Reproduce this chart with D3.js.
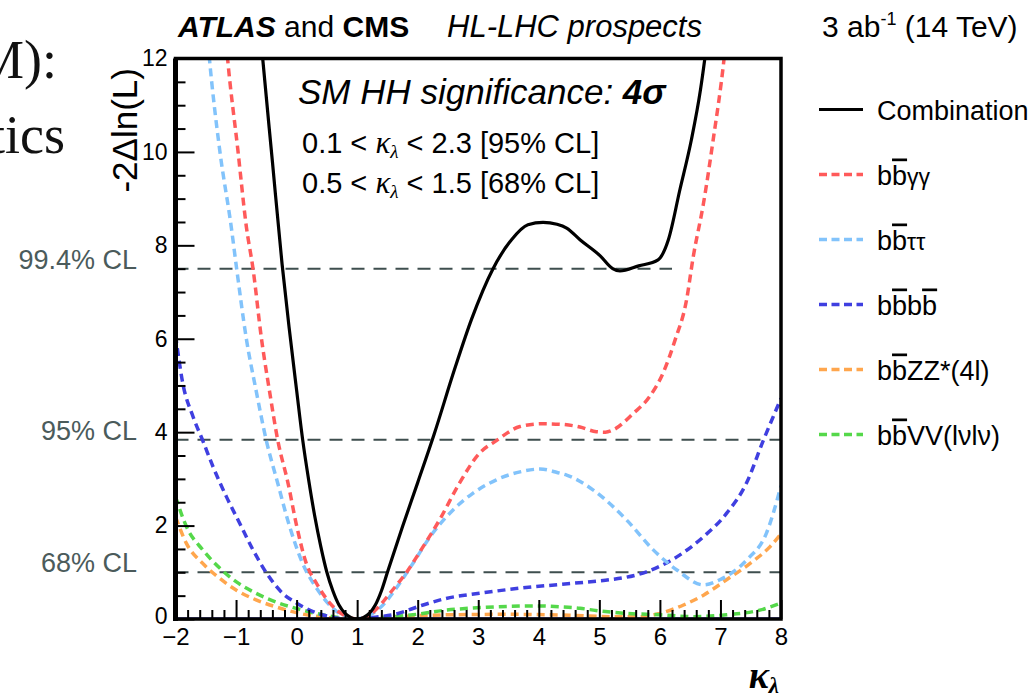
<!DOCTYPE html>
<html>
<head>
<meta charset="utf-8">
<script src="https://cdn.jsdelivr.net/npm/d3@7"></script>
<style>
  body { margin: 0; background: #fff; }
  svg { display: block; font-family: "Liberation Sans", Arial, Helvetica, sans-serif; }
</style>
</head>
<body>
<svg id="chart" width="1035" height="697"></svg>
<script>
// Likelihood scans of kappa_lambda: each point is [kappa_lambda, -2 Delta ln L]
const combination = [[-0.62,12.9],[-0.56,12.0],[-0.40,9.8],[-0.24,7.6],[-0.12,6.2],[0.0,4.9],[0.1,3.84],[0.2,2.97],[0.3,2.2],[0.4,1.55],[0.5,1.0],[0.6,0.6],[0.7,0.3],[0.8,0.12],[0.9,0.03],[1.0,0],[1.1,0.03],[1.2,0.12],[1.3,0.3],[1.4,0.6],[1.5,1.0],[1.75,1.98],[2.0,2.92],[2.27,3.95],[2.61,5.35],[2.89,6.42],[3.24,7.49],[3.55,8.12],[3.82,8.44],[4.07,8.49],[4.3,8.45],[4.46,8.37],[4.68,8.12],[5.01,7.78],[5.22,7.5],[5.34,7.45],[5.65,7.56],[5.97,7.69],[6.14,8.12],[6.33,9.19],[6.52,10.26],[6.67,11.33],[6.74,11.98],[6.8,12.6]];
const bbgg = [[-1.2,12.9],[-1.14,12.0],[-0.97,10.04],[-0.83,8.4],[-0.72,7.5],[-0.58,6.0],[-0.45,4.9],[-0.31,3.82],[-0.14,2.9],[0.0,2.0],[0.16,1.19],[0.33,0.76],[0.55,0.34],[0.77,0.09],[0.99,0],[1.21,0.09],[1.37,0.28],[1.54,0.55],[1.81,0.99],[2.09,1.55],[2.36,2.12],[2.69,2.91],[3.02,3.55],[3.30,3.82],[3.69,4.12],[4.07,4.18],[4.35,4.17],[4.68,4.11],[4.95,4.01],[5.1,4.0],[5.23,4.05],[5.56,4.40],[5.83,4.76],[6.05,5.26],[6.25,5.97],[6.44,6.83],[6.55,7.75],[6.72,8.9],[6.88,10.26],[7.06,12.0],[7.1,12.5]];
const bbtt = [[-1.5,12.9],[-1.44,12.0],[-1.27,10.04],[-1.08,8.4],[-0.99,7.5],[-0.83,6.0],[-0.67,4.9],[-0.50,3.82],[-0.31,2.9],[-0.12,2.0],[0.10,1.19],[0.35,0.62],[0.60,0.23],[0.8,0.05],[0.95,0],[1.15,0.05],[1.37,0.23],[1.70,0.76],[1.92,1.19],[2.25,1.84],[2.58,2.33],[2.91,2.69],[3.30,2.98],[3.69,3.15],[4.02,3.21],[4.35,3.12],[4.46,3.08],[4.90,2.76],[5.45,2.12],[5.89,1.48],[6.28,1.05],[6.72,0.73],[6.99,0.84],[7.43,1.26],[7.76,1.84],[8.0,2.85]];
const bbbb = [[-2.0,6.08],[-1.88,5.05],[-1.71,4.33],[-1.55,3.82],[-1.38,3.26],[-1.16,2.62],[-0.94,2.05],[-0.72,1.48],[-0.50,0.99],[-0.23,0.55],[0.0,0.34],[0.27,0.16],[0.55,0.05],[0.85,0.0],[1.1,0.01],[1.3,0.04],[1.59,0.09],[2.09,0.30],[2.47,0.44],[3.02,0.55],[3.69,0.66],[4.35,0.74],[4.95,0.81],[5.17,0.84],[5.78,1.01],[6.28,1.33],[6.72,1.76],[7.10,2.26],[7.43,2.91],[7.71,3.83],[8.0,4.72]];
const bbzz = [[-2.0,2.19],[-1.82,1.62],[-1.55,1.19],[-1.27,0.87],[-1.0,0.62],[-0.67,0.41],[-0.34,0.26],[0.05,0.12],[0.38,0.05],[0.7,0.01],[1.0,0],[1.5,0.04],[2.5,0.09],[3.5,0.1],[4.5,0.08],[5.2,0.05],[5.7,0.05],[6.0,0.12],[6.39,0.3],[6.72,0.51],[7.10,0.84],[7.49,1.19],[7.82,1.55],[8.0,1.82]];
const bbvv = [[-2.0,2.62],[-1.82,1.98],[-1.55,1.48],[-1.27,1.09],[-1.0,0.8],[-0.67,0.55],[-0.29,0.34],[0.10,0.19],[0.43,0.09],[0.7,0.03],[0.95,0],[1.3,0.02],[1.92,0.09],[2.47,0.19],[3.13,0.25],[3.96,0.28],[4.35,0.26],[4.68,0.23],[4.90,0.19],[5.45,0.12],[6.0,0.09],[6.55,0.05],[7.10,0.09],[7.65,0.19],[8.0,0.34]];

// Confidence-level thresholds and the kappa range each line spans
const clLabels = ["99.4% CL", "95% CL", "68% CL"];
const clValues = [7.5, 3.84, 1.0];
const clEnds = [6.2, 8, 8];

// Axis ticks
const xTicks = [-2, -1, 0, 1, 2, 3, 4, 5, 6, 7, 8];
const yTicks = [0, 2, 4, 6, 8, 10, 12];

const svg = d3.select("#chart");
const W = 1035, H = 697;
svg.append("rect").attr("width", W).attr("height", H).attr("fill", "#fff");

const x = d3.scaleLinear().domain([-2, 8]).range([175.5, 781]);
const y = d3.scaleLinear().domain([0, 12]).range([619, 58.5]);

// Text of the slide behind the figure
const serif = "'Liberation Serif', 'Times New Roman', serif";
svg.append("text").attr("x", 57).attr("y", 78).attr("text-anchor", "end")
  .attr("font-family", serif).attr("font-size", 54).attr("fill", "#111").text("M):");
svg.append("text").attr("x", 65).attr("y", 153).attr("text-anchor", "end")
  .attr("font-family", serif).attr("font-size", 54).attr("fill", "#111").text("tics");

// Clip region for the curves
svg.append("clipPath").attr("id", "plotclip").append("rect")
  .attr("x", x(-2)).attr("y", y(12)).attr("width", x(8) - x(-2)).attr("height", y(0) - y(12));

const plot = svg.append("g").attr("clip-path", "url(#plotclip)");

// CL reference lines
plot.selectAll("line.cl").data(clValues).join("line").attr("class", "cl")
  .attr("x1", x(-2)).attr("x2", (d, i) => x(clEnds[i]))
  .attr("y1", d => y(d)).attr("y2", d => y(d))
  .attr("stroke", "#3e4e4e").attr("stroke-width", 2).attr("stroke-dasharray", "13,9");

svg.selectAll("text.cl").data(clValues).join("text").attr("class", "cl")
  .attr("x", 137).attr("y", d => y(d)).attr("text-anchor", "end")
  .attr("font-size", 27).attr("fill", "#4b5b5b").text((d, i) => clLabels[i]);

// Zero line
plot.append("line").attr("x1", x(-2)).attr("x2", x(8)).attr("y1", y(0)).attr("y2", y(0))
  .attr("stroke", "#0000d0").attr("stroke-width", 3);

const line = d3.line().x(d => x(d[0])).y(d => y(d[1])).curve(d3.curveMonotoneX);

const series = [
  { name: "bbzz", data: bbzz, color: "#ffa64d" },
  { name: "bbvv", data: bbvv, color: "#55d84a" },
  { name: "bbbb", data: bbbb, color: "#3f3fe0" },
  { name: "bbtt", data: bbtt, color: "#82c3fb" },
  { name: "bbgg", data: bbgg, color: "#ff5a5a" }
];
series.forEach(s => {
  plot.append("path").datum(s.data).attr("d", line).attr("fill", "none")
    .attr("stroke", s.color).attr("stroke-width", 3.5).attr("stroke-dasharray", "8,5");
});
plot.append("path").datum(combination).attr("d", line).attr("fill", "none")
  .attr("stroke", "#000").attr("stroke-width", 3.2);

// Axes: ticks point into the frame
const yMinor = d3.range(0, 12.01, 0.5).filter(v => v % 2 !== 0);
const xMinor = d3.range(-2, 8.001, 0.2).map(v => +v.toFixed(1)).filter(v => Math.abs(v - Math.round(v)) > 1e-6);

const gyMinor = svg.append("g").attr("transform", `translate(${x(-2)},0)`)
  .call(d3.axisLeft(y).tickValues(yMinor).tickSize(-10).tickFormat(""));
const gy = svg.append("g").attr("transform", `translate(${x(-2)},0)`)
  .call(d3.axisLeft(y).tickValues(yTicks).tickSize(-19).tickPadding(8).tickFormat(d3.format("d")));
const gxMinor = svg.append("g").attr("transform", `translate(0,${y(0)})`)
  .call(d3.axisBottom(x).tickValues(xMinor).tickSize(-9).tickFormat(""));
const gx = svg.append("g").attr("transform", `translate(0,${y(0)})`)
  .call(d3.axisBottom(x).tickValues(xTicks).tickSize(-19).tickPadding(9).tickFormat(d3.format("d")));

[gyMinor, gy, gxMinor, gx].forEach(g => {
  g.selectAll(".tick line").attr("stroke", "#000").attr("stroke-width", 2);
  g.select(".domain").remove();
  g.selectAll("text").attr("font-family", "'Liberation Sans', Arial, sans-serif")
    .attr("font-size", 23).attr("fill", "#000");
});
gx.selectAll("text").attr("font-size", 24);
gy.selectAll("text").filter(d => d === 0).attr("dy", "0.2em");

// Frame
svg.append("rect").attr("x", x(-2)).attr("y", y(12))
  .attr("width", x(8) - x(-2)).attr("height", y(0) - y(12))
  .attr("fill", "none").attr("stroke", "#000").attr("stroke-width", 3.5);
svg.append("line").attr("x1", x(-2)).attr("x2", x(-2)).attr("y1", y(12)).attr("y2", y(0) + 2)
  .attr("stroke", "#000").attr("stroke-width", 5);

// Axis titles
svg.append("text").attr("transform", "translate(137,68) rotate(-90)")
  .attr("text-anchor", "end").attr("font-size", 35).text("-2\u0394ln(L)");

const xt = svg.append("text").attr("x", 779).attr("y", 688).attr("text-anchor", "end")
  .attr("font-family", serif).attr("font-style", "italic").attr("font-weight", "bold");
xt.append("tspan").attr("font-size", 38).text("\u03ba");
xt.append("tspan").attr("font-size", 23).attr("dy", 5).text("\u03bb");

// Header
const title = svg.append("text").attr("x", 178).attr("y", 37).attr("font-size", 30);
title.append("tspan").attr("font-weight", "bold").attr("font-style", "italic").text("ATLAS");
title.append("tspan").text(" and ");
title.append("tspan").attr("font-weight", "bold").text("CMS");
title.append("tspan").attr("x", 447).attr("font-size", 31).attr("font-style", "italic").text("HL-LHC prospects");

const lumi = svg.append("text").attr("x", 822).attr("y", 37).attr("font-size", 30);
lumi.append("tspan").text("3 ab");
lumi.append("tspan").attr("font-size", 18).attr("dy", -12).text("-1");
lumi.append("tspan").attr("dy", 12).text(" (14 TeV)");

// Results box
const sig = svg.append("text").attr("x", 298).attr("y", 104).attr("font-size", 35).attr("font-style", "italic");
sig.append("tspan").text("SM HH significance: ");
sig.append("tspan").attr("font-weight", "bold").text("4\u03c3");

function rangeLine(yy, lo, hi, cl) {
  const t = svg.append("text").attr("x", 302).attr("y", yy).attr("font-size", 29);
  t.append("tspan").text(lo + " < ");
  t.append("tspan").attr("font-family", serif).attr("font-style", "italic").attr("font-size", 31).text("\u03ba");
  t.append("tspan").attr("font-family", serif).attr("font-style", "italic").attr("font-size", 19).attr("dy", 5).text("\u03bb");
  t.append("tspan").attr("dy", -5).text(" < " + hi + " [" + cl + " CL]");
}
rangeLine(153, "0.1", "2.3", "95%");
rangeLine(193, "0.5", "1.5", "68%");

// Legend
const legendItems = [
  { parts: [["Combination", false]], color: "#000", dashed: false },
  { parts: [["b", false], ["b", true], ["\u03b3\u03b3", false, true]], color: "#ff5a5a", dashed: true },
  { parts: [["b", false], ["b", true], ["\u03c4\u03c4", false, true]], color: "#82c3fb", dashed: true },
  { parts: [["b", false], ["b", true], ["b", false], ["b", true]], color: "#3f3fe0", dashed: true },
  { parts: [["b", false], ["b", true], ["ZZ*(4l)", false]], color: "#ffa64d", dashed: true },
  { parts: [["b", false], ["b", true], ["VV(l\u03bdl\u03bd)", false]], color: "#55d84a", dashed: true }
];
const lg = svg.append("g");
legendItems.forEach((it, i) => {
  const ly = 109.5 + i * 65;
  lg.append("line").attr("x1", 819).attr("x2", 863).attr("y1", ly).attr("y2", ly)
    .attr("stroke", it.color).attr("stroke-width", it.dashed ? 3.5 : 3.2)
    .attr("stroke-dasharray", it.dashed ? "8,4.5" : null);
  const t = lg.append("text").attr("x", 877).attr("y", ly + 10).attr("font-size", 27);
  it.parts.forEach(p => {
    const ts = t.append("tspan").text(p[0]);
    if (p[1]) ts.attr("text-decoration", "overline");
    if (p[2]) ts.attr("font-size", 23);
  });
});
</script>
</body>
</html>
